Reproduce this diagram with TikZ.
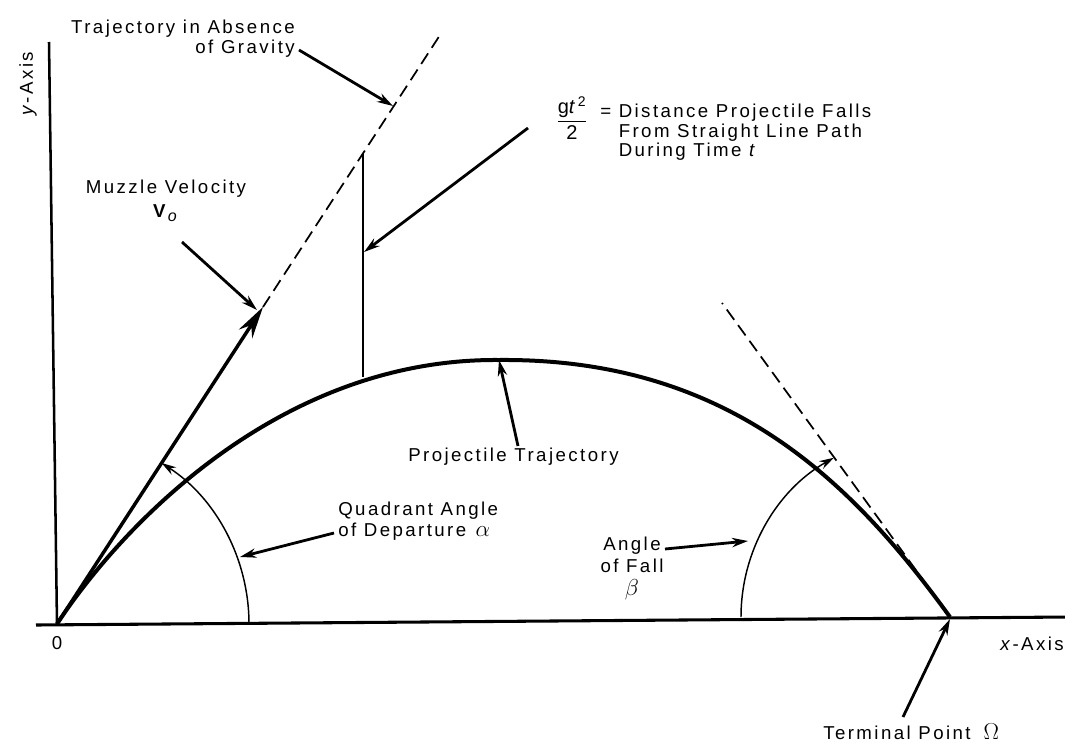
\documentclass[tikz,border=0pt]{standalone}
\usepackage{fontspec}
\usepackage{amsmath}
\setmainfont{Liberation Sans}[LetterSpace=13]
\usetikzlibrary{arrows.meta}
\newcommand{\grk}[1]{{\fontsize{16pt}{16pt}\selectfont$#1$}}
\begin{document}
\begin{tikzpicture}[x=0.75pt,y=-0.75pt,
  lbl/.style={font=\fontsize{14pt}{14.6pt}\selectfont, inner sep=0pt},
  axisline/.style={line width=2.3pt},
  trajline/.style={line width=3pt, line join=round},
  launchline/.style={line width=2.6pt, -{Stealth[length=24pt,width=12pt]}},
  lblarrow/.style={line width=2.1pt, -{Stealth[length=12pt,width=7pt]}},
  thinline/.style={line width=1.1pt},
  arcarrow/.style={line width=1.1pt, -{Stealth[length=11pt,width=6.5pt]}},
  dashline/.style={line width=1.3pt, dash pattern=on 9.5pt off 5pt}]
\useasboundingbox (0,0) rectangle (1065,743);
% key points
\coordinate (O) at (57,624);
\coordinate (xL) at (36,625);
\coordinate (xR) at (1070,617);
\coordinate (yT) at (49,42);
\coordinate (V) at (263,307);
\coordinate (G) at (442,32);
\coordinate (T) at (950,617);
\coordinate (Tan) at (722,303);
\coordinate (vTop) at (363,154);
\coordinate (vBot) at (363,377);
\coordinate (apex) at (499,360);
\coordinate (aMid) at (240,557);
\coordinate (bMid) at (748,541);
\coordinate (gTip) at (393,106);
\coordinate (gtTip) at (364,252);
\coordinate (vTip) at (257,310);
\coordinate (TTip) at (950,619);
% arrow tails
\coordinate (gStart) at (299,50);
\coordinate (gtStart) at (528,128);
\coordinate (vStart) at (182,242);
\coordinate (qStart) at (334,533);
\coordinate (pStart) at (518,446);
\coordinate (fStart) at (665,549);
\coordinate (tStart) at (903,717);

% axes
\draw[axisline] (xL) -- (xR);
\draw[line width=1.9pt] (O) -- (yT);

% straight-line path
\draw[dashline] (V) -- (G);
\draw[launchline] (O) -- (V);

% gt^2/2 vertical
\draw[thinline] (vTop) -- (vBot);

% trajectory
\draw[trajline] (O) .. controls (111.5,540.2) and (270,358) .. (apex)
  .. controls (730,358) and (853,483.4) .. (T);

% tangent at terminal point
\draw[dashline] (T) -- (Tan);

% angle arcs
\draw[arcarrow] (249,624) arc[start angle=0, end angle=-57, radius=192];
\draw[arcarrow] (741,617) arc[start angle=-180, end angle=-119.5, radius=183];

% labels
\node[lbl, anchor=north east, align=right] (grav) at (295,20) {Trajectory in Absence\\of Gravity};
\node[lbl, font=\fontsize{15pt}{15pt}\selectfont] (frac) at (572,118) {$\dfrac{\text{g\textit{t}}^{\text{2}}}{\text{2}}$};
\node[lbl, anchor=north west, align=left] (falls) at (600,104) {= Distance Projectile Falls\\\hphantom{= }From Straight Line Path\\\hphantom{= }During Time \textit{t}};
\node[lbl, anchor=north, align=center] (muzzle) at (166,180) {Muzzle Velocity\\[3pt]\textbf{V}\raisebox{-0.45ex}{\fontsize{12pt}{12pt}\selectfont\textit{o}}};
\node[lbl, anchor=north west] (proj) at (408,448) {Projectile Trajectory};
\node[lbl, anchor=north west, align=left] (quad) at (338,502) {Quadrant Angle\\[1pt]of Departure\hspace{0.5em}\grk{\alpha}};
\node[lbl, anchor=north, align=center] (fall) at (632,537) {Angle\\[2pt]of Fall\\[2pt]\grk{\beta}};
\node[lbl, anchor=base west] (term) at (823,739) {Terminal Point\hspace{0.7em}\grk{\Omega}};
\node[lbl, anchor=base west] (xlab) at (1000,650) {\textit{x}-Axis};
\node[lbl] (zero) at (57,643) {0};
\node[lbl, rotate=90] (ylab) at (28,84) {\textit{y}-Axis};

% label arrows
\draw[lblarrow] (gStart) -- (gTip);
\draw[lblarrow] (gtStart) -- (gtTip);
\draw[lblarrow] (vStart) -- (vTip);
\draw[lblarrow] (qStart) -- (aMid);
\draw[lblarrow] (pStart) -- (apex);
\draw[lblarrow] (fStart) -- (bMid);
\draw[lblarrow] (tStart) -- (TTip);
\end{tikzpicture}
\end{document}
